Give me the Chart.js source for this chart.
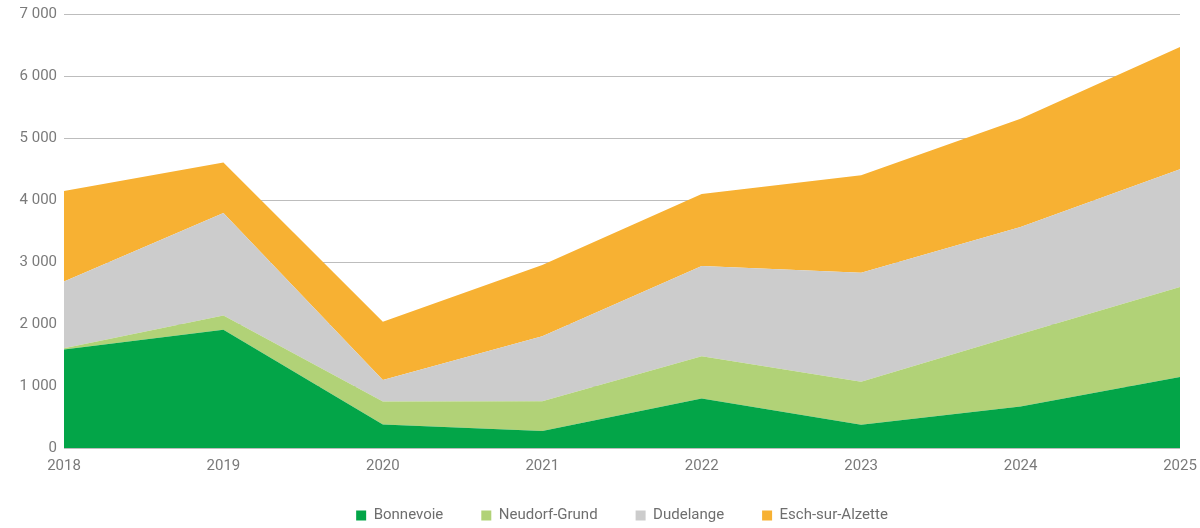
<!DOCTYPE html>
<html>
<head>
<meta charset="utf-8">
<script src="https://cdn.jsdelivr.net/npm/chart.js@4/dist/chart.umd.min.js"></script>
<style>
  html, body { margin: 0; padding: 0; background: #fff; }
  #wrap { width: 1200px; height: 528px; }
</style>
</head>
<body>
<div id="wrap"><canvas id="areaChart"></canvas></div>
<script>
// values
const years = ['2018', '2019', '2020', '2021', '2022', '2023', '2024', '2025'];
const bonnevoie = [1590, 1910, 380, 275, 800, 375, 670, 1145];
const neudorfGrund = [20, 230, 370, 480, 680, 695, 1170, 1455];
const dudelange = [1080, 1655, 350, 1050, 1460, 1760, 1730, 1900];
const eschSurAlzette = [1460, 815, 940, 1150, 1160, 1575, 1745, 1975];

const seriesNames = ['Bonnevoie', 'Neudorf-Grund', 'Dudelange', 'Esch-sur-Alzette'];
const seriesColors = ['#03a548', '#b1d277', '#cccccc', '#f7b133'];
const seriesData = [bonnevoie, neudorfGrund, dudelange, eschSurAlzette];

const fontFamily = "'Roboto', sans-serif";

function formatThousands(v) {
    return String(v).replace(/\B(?=(\d{3})+(?!\d))/g, ' ');
}

// legend padding is used both between items and above them,
// so keep the wide gaps but force a shorter legend box and place it by hand
const legendPlacePlugin = {
    id: 'legendPlace',
    beforeInit: (chart) => {
        const legend = chart.legend;
        if (!legend) return;
        const origFit = legend.fit.bind(legend);
        legend.fit = function() {
            origFit();
            this.height = 52;
        };
    },
    afterLayout: (chart) => {
        const legend = chart.legend;
        if (!legend) return;
        // centre under the plot area, not the whole canvas
        const shift = (chart.chartArea.left + chart.chartArea.right) / 2 - (legend.left + legend.right) / 2;
        legend.left += shift;
        legend.right += shift;
        const h = legend.bottom - legend.top;
        legend.top = 470;
        legend.bottom = 470 + h;
    }
};

const ctx = document.getElementById('areaChart').getContext('2d');

new Chart(ctx, {
    type: 'line',
    data: {
        labels: years,
        datasets: seriesData.map((data, i) => ({
            label: seriesNames[i],
            data: data,
            backgroundColor: seriesColors[i],
            borderColor: seriesColors[i],
            borderWidth: 0,
            pointRadius: 0,
            fill: i === 0 ? 'origin' : '-1',
            tension: 0
        }))
    },
    options: {
        responsive: true,
        maintainAspectRatio: false,
        animation: false,
        layout: {
            padding: { left: 0, right: 20, top: 0, bottom: 0 }
        },
        scales: {
            x: {
                offset: false,
                afterFit: (axis) => { axis.height = 28; },
                grid: { display: false },
                border: { display: false },
                ticks: {
                    color: '#7a7a7a',
                    font: { family: fontFamily, size: 15 },
                    padding: 1,
                    maxRotation: 0
                }
            },
            y: {
                stacked: true,
                min: 0,
                max: 7000,
                afterFit: (axis) => { axis.width = 64; },
                grid: {
                    color: '#bdbdbd',
                    lineWidth: 1,
                    drawTicks: false
                },
                border: { display: false },
                ticks: {
                    stepSize: 1000,
                    color: '#7a7a7a',
                    font: { family: fontFamily, size: 15, lineHeight: 1 },
                    padding: 7,
                    callback: (v) => formatThousands(v)
                }
            }
        },
        plugins: {
            legend: {
                position: 'bottom',
                labels: {
                    boxWidth: 10,
                    boxHeight: 10,
                    padding: 38,
                    color: '#6e6e6e',
                    font: { family: fontFamily, size: 15 }
                }
            },
            tooltip: { enabled: false }
        }
    },
    plugins: [legendPlacePlugin]
});
</script>
</body>
</html>
